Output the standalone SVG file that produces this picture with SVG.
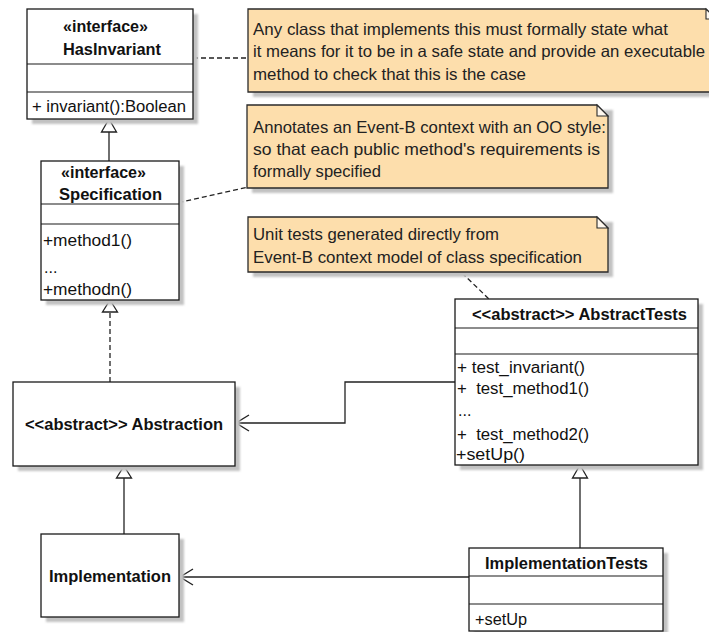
<svg xmlns="http://www.w3.org/2000/svg" width="709" height="632" viewBox="0 0 709 632">
<style>
text{font-family:"Liberation Sans",Arial,sans-serif;font-size:16px;fill:#111;white-space:pre}
.b{font-weight:bold}
.n{font-size:16.5px;fill:#222}
.box{fill:#fff;stroke:#1a1a1a;stroke-width:1.3}
.sh{fill:#c2c2c2;filter:url(#blur)}
.sep{stroke:#1a1a1a;stroke-width:1.2}
.note{fill:#fddeac;stroke:#2a2a2a;stroke-width:1.3}
.fold{fill:#fff8ee;stroke:#2a2a2a;stroke-width:1.1}
.ln{fill:none;stroke:#222;stroke-width:1.3}
.arr{fill:none;stroke:#222;stroke-width:1.4}
.dash{fill:none;stroke:#222;stroke-width:1.3;stroke-dasharray:5,3}
.tri{fill:#fff;stroke:#222;stroke-width:1.3}
</style>
<defs>
<filter id="blur" x="-10%" y="-10%" width="120%" height="120%"><feGaussianBlur stdDeviation="1"/></filter>
</defs>

<g id="connectors">
<line class="dash" x1="185" y1="58" x2="248" y2="58"/>
<line class="dash" x1="155" y1="208" x2="248" y2="187"/>
<line class="dash" x1="462" y1="273" x2="489" y2="299"/>
<line class="ln" x1="109" y1="161" x2="109" y2="132"/>
<path class="tri" d="M109,119 L116.5,132 L101.5,132 Z"/>
<line class="dash" x1="110" y1="382" x2="110" y2="312"/>
<path class="tri" d="M110,300 L117.5,312 L102.5,312 Z"/>
<line class="ln" x1="124" y1="534" x2="124" y2="478"/>
<path class="tri" d="M124,466 L131.5,478 L116.5,478 Z"/>
<line class="ln" x1="580" y1="548" x2="580" y2="478"/>
<path class="tri" d="M580,465 L587.5,478 L572.5,478 Z"/>
<polyline class="ln" points="455,382 345,382 345,423 236,423"/>
<path class="arr" d="M249,415 L236,423 L249,431"/>
<line class="ln" x1="469" y1="577" x2="180" y2="577"/>
<path class="arr" d="M193,569 L180,577 L193,585"/>
</g>

<g id="note1">
<path class="sh" d="M253,14 H721 V97 H253 Z"/>
<path class="note" d="M248,9 H706 L716,19 V92 H248 Z"/>
<path class="fold" d="M706,9 V19 H716 Z"/>
<text class="n" x="253" y="35" textLength="415" lengthAdjust="spacingAndGlyphs">Any class that implements this must formally state what</text>
<text class="n" x="253" y="57" textLength="452" lengthAdjust="spacingAndGlyphs">it means for it to be in a safe state and provide an executable</text>
<text class="n" x="253" y="80" textLength="273" lengthAdjust="spacingAndGlyphs">method to check that this is the case</text>
</g>

<g id="note2">
<path class="sh" d="M252,110 H613 V193 H252 Z"/>
<path class="note" d="M247,105 H597 L608,116 V188 H247 Z"/>
<path class="fold" d="M597,105 V116 H608 Z"/>
<text class="n" x="253" y="133" textLength="353" lengthAdjust="spacingAndGlyphs">Annotates an Event-B context with an OO style:</text>
<text class="n" x="253" y="155" textLength="347" lengthAdjust="spacingAndGlyphs">so that each public method's requirements is</text>
<text class="n" x="253" y="177" textLength="128" lengthAdjust="spacingAndGlyphs">formally specified</text>
</g>

<g id="note3">
<path class="sh" d="M253,222 H613 V277 H253 Z"/>
<path class="note" d="M248,217 H597 L608,228 V272 H248 Z"/>
<path class="fold" d="M597,217 V228 H608 Z"/>
<text class="n" x="253" y="240" textLength="246" lengthAdjust="spacingAndGlyphs">Unit tests generated directly from</text>
<text class="n" x="253" y="263" textLength="329" lengthAdjust="spacingAndGlyphs">Event-B context model of class specification</text>
</g>

<g id="HasInvariant">
<rect class="sh" x="32" y="14" width="166" height="110"/>
<rect class="box" x="27" y="9" width="166" height="110"/>
<line class="sep" x1="27" y1="64" x2="193" y2="64"/>
<line class="sep" x1="27" y1="92" x2="193" y2="92"/>
<text class="b" x="63" y="32" textLength="85" lengthAdjust="spacingAndGlyphs">«interface»</text>
<text class="b" x="63" y="55" textLength="98" lengthAdjust="spacingAndGlyphs">HasInvariant</text>
<text x="32" y="112" textLength="154" lengthAdjust="spacingAndGlyphs">+ invariant():Boolean</text>
</g>

<g id="Specification">
<rect class="sh" x="46" y="166" width="138" height="139"/>
<rect class="box" x="41" y="161" width="138" height="139"/>
<line class="sep" x1="41" y1="204" x2="179" y2="204"/>
<line class="sep" x1="41" y1="224" x2="179" y2="224"/>
<text class="b" x="61" y="178" textLength="85" lengthAdjust="spacingAndGlyphs">«interface»</text>
<text class="b" x="59" y="200" textLength="103" lengthAdjust="spacingAndGlyphs">Specification</text>
<text x="43" y="246" textLength="89" lengthAdjust="spacingAndGlyphs">+method1()</text>
<text x="44" y="273">...</text>
<text x="43" y="295" textLength="89" lengthAdjust="spacingAndGlyphs">+methodn()</text>
</g>

<g id="AbstractTests">
<rect class="sh" x="460" y="304" width="243" height="166"/>
<rect class="box" x="455" y="299" width="243" height="166"/>
<line class="sep" x1="455" y1="328" x2="698" y2="328"/>
<line class="sep" x1="455" y1="354" x2="698" y2="354"/>
<text class="b" x="472" y="320" textLength="215" lengthAdjust="spacingAndGlyphs">&lt;&lt;abstract&gt;&gt; AbstractTests</text>
<text x="457" y="373" textLength="128" lengthAdjust="spacingAndGlyphs">+ test_invariant()</text>
<text x="457" y="394" textLength="132" lengthAdjust="spacingAndGlyphs">+  test_method1()</text>
<text x="458" y="416">...</text>
<text x="457" y="440" textLength="132" lengthAdjust="spacingAndGlyphs">+  test_method2()</text>
<text x="456" y="460" textLength="69" lengthAdjust="spacingAndGlyphs">+setUp()</text>
</g>

<g id="Abstraction">
<rect class="sh" x="18" y="387" width="222" height="84"/>
<rect class="box" x="13" y="382" width="222" height="84"/>
<text class="b" x="25" y="430" textLength="198" lengthAdjust="spacingAndGlyphs">&lt;&lt;abstract&gt;&gt; Abstraction</text>
</g>

<g id="Implementation">
<rect class="sh" x="46" y="539" width="138" height="83"/>
<rect class="box" x="41" y="534" width="138" height="83"/>
<text class="b" x="49" y="582" textLength="122" lengthAdjust="spacingAndGlyphs">Implementation</text>
</g>

<g id="ImplementationTests">
<rect class="sh" x="474" y="553" width="194" height="83"/>
<rect class="box" x="469" y="548" width="194" height="83"/>
<line class="sep" x1="469" y1="576" x2="663" y2="576"/>
<line class="sep" x1="469" y1="604" x2="663" y2="604"/>
<text class="b" x="485" y="569" textLength="163" lengthAdjust="spacingAndGlyphs">ImplementationTests</text>
<text x="475" y="625" textLength="52" lengthAdjust="spacingAndGlyphs">+setUp</text>
</g>
</svg>
